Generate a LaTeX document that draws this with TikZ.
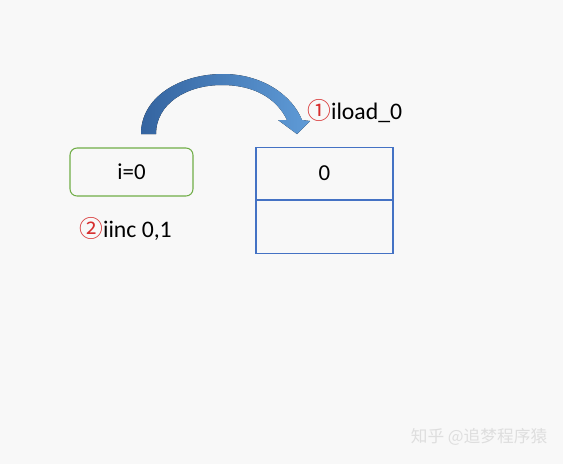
\documentclass[tikz,border=0pt]{standalone}
\usepackage{fontspec}
\setmainfont{Carlito}
\newfontfamily\cjk{Noto Sans CJK SC}
\usepackage{tikz}
\usetikzlibrary{positioning}
\definecolor{bground}{RGB}{248,248,248}
\definecolor{vargreen}{RGB}{112,173,71}
\definecolor{slotblue}{RGB}{68,114,196}
\definecolor{arrowdark}{RGB}{52,100,160}
\definecolor{arrowlight}{RGB}{95,155,215}
\definecolor{stepred}{RGB}{215,45,45}
\definecolor{marktext}{RGB}{222,222,222}
\tikzset{%
  var/.style={draw=vargreen, line width=0.6pt, rounded corners=4pt, minimum width=2.46cm,
    minimum height=0.96cm, inner sep=0pt, font=\fontsize{13}{15}\selectfont},% local variable
  slot/.style={draw=slotblue, line width=0.6pt, minimum width=2.74cm, minimum height=1.05cm,
    inner sep=0pt, font=\fontsize{13}{15}\selectfont},% operand stack slot
  instr/.style={anchor=west, inner sep=0pt, font=\fontsize{13.5}{16}\selectfont},% bytecode label
  watermark/.style={text=marktext, font=\cjk\fontsize{9.5}{11}\selectfont}
}
\newcommand*{\stepno}[1]{{\cjk\color{stepred}#1}}
\begin{document}
\begin{tikzpicture}[x=0.02cm, y=-0.02cm]
\fill[bground] (0,0) rectangle (563,464);
\useasboundingbox (0,0) rectangle (563,464);

\node[var] (ivar) at (131.5,172) {i=0};

\node[slot] (slot0) at (324.5,173.5) {0};
\node[slot, below=0pt of slot0] (slot1) {};

% load arrow
\fill[left color=arrowdark, right color=arrowlight]
  (141,134) .. controls (141,97) and (180,74) .. (223,74)
  .. controls (262,74) and (292,95) .. (302,120) -- (310,121) -- (297,134) -- (278,120)
  -- (287,120) .. controls (277,99) and (255,85) .. (222,85)
  .. controls (186,85) and (156,104) .. (156,134) -- cycle;

\node[instr] (load) at (307,111) {\stepno{①}iload\_0};
\node[instr] (inc) at (79,229) {\stepno{②}iinc 0,1};

\node[watermark] (mark) at (479,437) {知乎 @追梦程序猿};
\end{tikzpicture}
\end{document}
